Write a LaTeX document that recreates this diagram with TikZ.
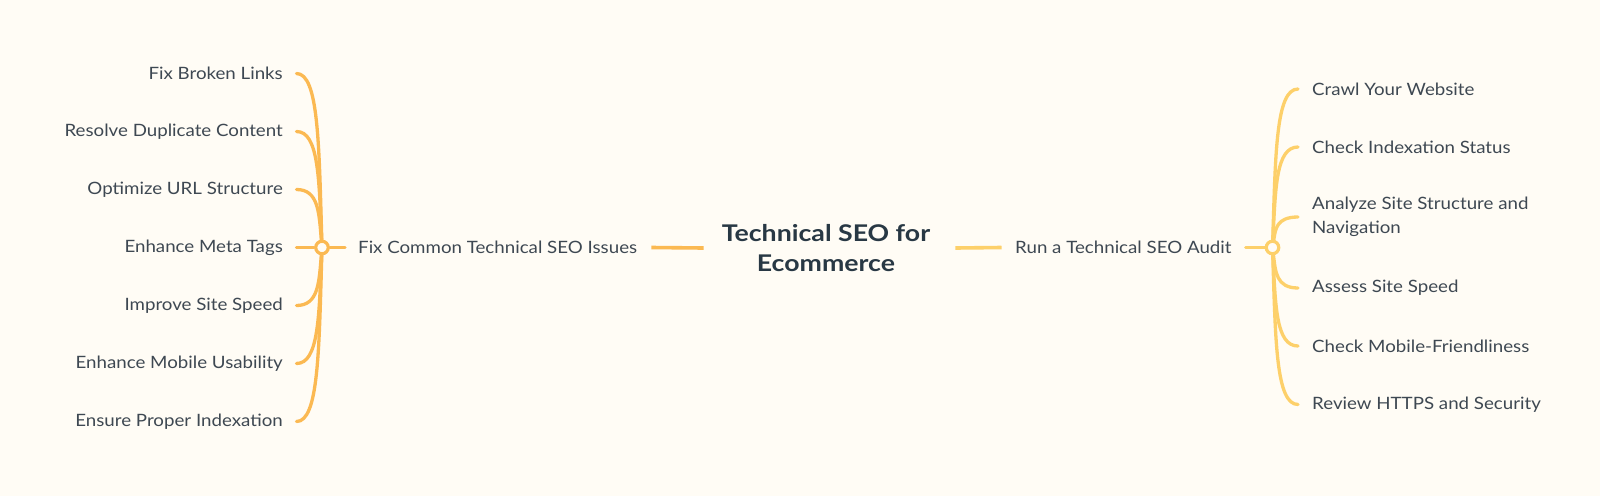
\documentclass[tikz,border=0pt]{standalone}
\usepackage{fontspec}
\setmainfont{Lato}[FakeStretch=1.1]
\newfontfamily\titlefont{Lato}[FakeStretch=1.16]
\definecolor{bgc}{HTML}{FFFCF5}
\definecolor{lorange}{HTML}{FBB952}
\definecolor{ryellow}{HTML}{FDD06A}
\definecolor{leaftext}{HTML}{3E4852}
\definecolor{titletext}{HTML}{283844}
\begin{document}
\begin{tikzpicture}[x=1pt,y=-1pt,
  leafl/.style={anchor=east,inner sep=0pt,text=leaftext,font=\fontsize{17}{21}\selectfont},
  leafr/.style={anchor=west,inner sep=0pt,text=leaftext,font=\fontsize{17}{23.5}\selectfont,align=left},
  mainl/.style={inner sep=0pt,text=leaftext,font=\fontsize{17}{21}\selectfont},
  title/.style={inner sep=0pt,text=titletext,align=center,font=\titlefont\bfseries\fontsize{23}{30.5}\selectfont},
  junctionl/.style={circle,draw=lorange,line width=3.2pt,fill=bgc,minimum size=12.5pt,inner sep=0pt},
  junctionr/.style={circle,draw=ryellow,line width=3.2pt,fill=bgc,minimum size=12.5pt,inner sep=0pt},
  lbr/.style={draw=lorange,line width=3.3pt,line cap=round},
  rbr/.style={draw=ryellow,line width=3.3pt,line cap=round},
  lmain/.style={draw=lorange,line width=3.6pt},
  rmain/.style={draw=ryellow,line width=3.6pt}]
\fill[bgc] (0,0) rectangle (1600,496);
\useasboundingbox (0,0) rectangle (1600,496);

% center
\node[title] (t) at (826,248) {Technical SEO for\\Ecommerce};
\node[mainl,anchor=west] (lm) at (358,247.5) {Fix Common Technical SEO Issues};
\node[mainl,anchor=west] (rm) at (1015,247.5) {Run a Technical SEO Audit};
\node[junctionl] (lc) at (322,247.5) {};
\node[junctionr] (rc) at (1272.5,247.5) {};

% left leaves
\node[leafl] (l1) at (283,73.5) {Fix Broken Links};
\node[leafl] (l2) at (283,131.5) {Resolve Duplicate Content};
\node[leafl] (l3) at (283,189.5) {Optimize URL Structure};
\node[leafl] (l4) at (283,247.5) {Enhance Meta Tags};
\node[leafl] (l5) at (283,305.5) {Improve Site Speed};
\node[leafl] (l6) at (283,363.5) {Enhance Mobile Usability};
\node[leafl] (l7) at (283,421.5) {Ensure Proper Indexation};

% right leaves
\node[leafr] (r1) at (1312,89) {Crawl Your Website};
\node[leafr] (r2) at (1312,147) {Check Indexation Status};
\node[leafr] (r3) at (1312,217) {Analyze Site Structure and\\Navigation};
\node[leafr] (r4) at (1312,288) {Assess Site Speed};
\node[leafr] (r5) at (1312,346) {Check Mobile-Friendliness};
\node[leafr] (r6) at (1312,404.5) {Review HTTPS and Security};

% main connectors
\draw[lmain] ([xshift=-18pt]t.west) -- ([xshift=14pt]lm.east);
\draw[rmain] ([xshift=25pt]t.east) -- ([xshift=-13.5pt]rm.west);
\draw[lbr] ([xshift=-13pt]lm.west) -- (lc);
\draw[rbr] ([xshift=14pt]rm.east) -- (rc);

% left branches
\draw[lbr] ([xshift=13.5pt]l1.east) .. controls +(22,0) and +(-3,-104) .. (lc);
\draw[lbr] ([xshift=13.5pt]l2.east) .. controls +(22,0) and +(-3,-70) .. (lc);
\draw[lbr] ([xshift=13.5pt]l3.east) .. controls +(22,0) and +(-3,-35) .. (lc);
\draw[lbr] ([xshift=13.5pt]l4.east) -- (lc);
\draw[lbr] ([xshift=13.5pt]l5.east) .. controls +(22,0) and +(-3,35) .. (lc);
\draw[lbr] ([xshift=13.5pt]l6.east) .. controls +(22,0) and +(-3,70) .. (lc);
\draw[lbr] ([xshift=13.5pt]l7.east) .. controls +(22,0) and +(-3,104) .. (lc);

% right branches
\draw[rbr] ([xshift=-14pt]r1.west) .. controls +(-22,0) and +(3,-95) .. (rc);
\draw[rbr] ([xshift=-14pt]r2.west) .. controls +(-22,0) and +(3,-60) .. (rc);
\draw[rbr] ([xshift=-14pt]r3.west) .. controls +(-22,0) and +(3,-18) .. (rc);
\draw[rbr] ([xshift=-14pt]r4.west) .. controls +(-22,0) and +(3,24) .. (rc);
\draw[rbr] ([xshift=-14pt]r5.west) .. controls +(-22,0) and +(3,59) .. (rc);
\draw[rbr] ([xshift=-14pt]r6.west) .. controls +(-22,0) and +(3,94) .. (rc);
\end{tikzpicture}
\end{document}
